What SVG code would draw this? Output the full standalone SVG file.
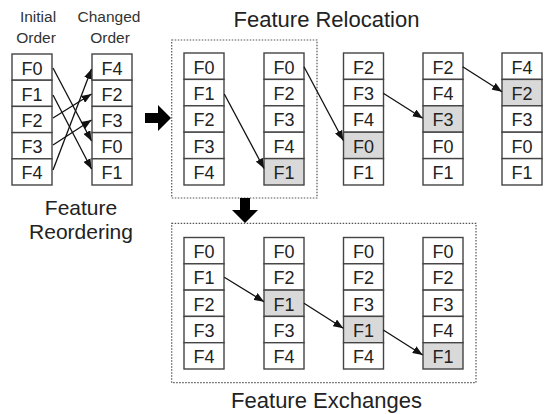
<svg xmlns="http://www.w3.org/2000/svg" width="546" height="414" viewBox="0 0 546 414">
<style>
text{font-family:"Liberation Sans",Arial,sans-serif;fill:#222;text-anchor:middle}
.c{fill:#fff;stroke:#444;stroke-width:1.4}
.s{fill:#d9d9d9;stroke:#444;stroke-width:1.4}
.t{font-size:18px}
.h{font-size:22px}
.r{font-size:21px}
.l{font-size:15.5px;fill:#333}
.box{fill:none;stroke:#555;stroke-width:1.2;stroke-dasharray:1.5 1.5}
.ln{stroke:#111;stroke-width:1.3;fill:none;marker-end:url(#ah)}
.big{fill:#000}
</style>
<defs>
<marker id="ah" viewBox="0 0 10 8" refX="10" refY="4" markerWidth="10" markerHeight="8" orient="auto" markerUnits="userSpaceOnUse"><path d="M0,0 L10,4 L0,8 z" fill="#111"/></marker>
</defs>

<g id="titles">
<text class="h" x="326.5" y="27">Feature Relocation</text>
<text class="h" x="326.5" y="408">Feature Exchanges</text>
<text class="r" x="81" y="215">Feature</text>
<text class="r" x="81" y="239">Reordering</text>
<text class="l" x="38" y="22">Initial</text>
<text class="l" x="36" y="43">Order</text>
<text class="l" x="109" y="22">Changed</text>
<text class="l" x="110" y="43">Order</text>
</g>

<g id="frames">
<rect class="box" x="171.7" y="40" width="145.3" height="158"/>
<rect class="box" x="171.7" y="223.3" width="304.3" height="159.4"/>
</g>

<g id="initial-order">
<rect class="c" x="12" y="54" width="40" height="26.2"/><text class="t" x="32" y="74.5">F0</text>
<rect class="c" x="12" y="80.2" width="40" height="26.2"/><text class="t" x="32" y="100.7">F1</text>
<rect class="c" x="12" y="106.4" width="40" height="26.2"/><text class="t" x="32" y="126.9">F2</text>
<rect class="c" x="12" y="132.6" width="40" height="26.2"/><text class="t" x="32" y="153.1">F3</text>
<rect class="c" x="12" y="158.8" width="40" height="26.2"/><text class="t" x="32" y="179.3">F4</text>
</g>
<g id="changed-order">
<rect class="c" x="92" y="54" width="40" height="26.2"/><text class="t" x="112" y="74.5">F4</text>
<rect class="c" x="92" y="80.2" width="40" height="26.2"/><text class="t" x="112" y="100.7">F2</text>
<rect class="c" x="92" y="106.4" width="40" height="26.2"/><text class="t" x="112" y="126.9">F3</text>
<rect class="c" x="92" y="132.6" width="40" height="26.2"/><text class="t" x="112" y="153.1">F0</text>
<rect class="c" x="92" y="158.8" width="40" height="26.2"/><text class="t" x="112" y="179.3">F1</text>
</g>

<g id="reloc-1">
<rect class="c" x="184" y="53" width="40" height="26.4"/><text class="t" x="204" y="73.5">F0</text>
<rect class="c" x="184" y="79.4" width="40" height="26.4"/><text class="t" x="204" y="99.9">F1</text>
<rect class="c" x="184" y="105.8" width="40" height="26.4"/><text class="t" x="204" y="126.3">F2</text>
<rect class="c" x="184" y="132.2" width="40" height="26.4"/><text class="t" x="204" y="152.7">F3</text>
<rect class="c" x="184" y="158.6" width="40" height="26.4"/><text class="t" x="204" y="179.1">F4</text>
</g>
<g id="reloc-2">
<rect class="c" x="264" y="53" width="40" height="26.4"/><text class="t" x="284" y="73.5">F0</text>
<rect class="c" x="264" y="79.4" width="40" height="26.4"/><text class="t" x="284" y="99.9">F2</text>
<rect class="c" x="264" y="105.8" width="40" height="26.4"/><text class="t" x="284" y="126.3">F3</text>
<rect class="c" x="264" y="132.2" width="40" height="26.4"/><text class="t" x="284" y="152.7">F4</text>
<rect class="s" x="264" y="158.6" width="40" height="26.4"/><text class="t" x="284" y="179.1">F1</text>
</g>
<g id="reloc-3">
<rect class="c" x="343.5" y="53" width="40" height="26.4"/><text class="t" x="363.5" y="73.5">F2</text>
<rect class="c" x="343.5" y="79.4" width="40" height="26.4"/><text class="t" x="363.5" y="99.9">F3</text>
<rect class="c" x="343.5" y="105.8" width="40" height="26.4"/><text class="t" x="363.5" y="126.3">F4</text>
<rect class="s" x="343.5" y="132.2" width="40" height="26.4"/><text class="t" x="363.5" y="152.7">F0</text>
<rect class="c" x="343.5" y="158.6" width="40" height="26.4"/><text class="t" x="363.5" y="179.1">F1</text>
</g>
<g id="reloc-4">
<rect class="c" x="423" y="53" width="40" height="26.4"/><text class="t" x="443" y="73.5">F2</text>
<rect class="c" x="423" y="79.4" width="40" height="26.4"/><text class="t" x="443" y="99.9">F4</text>
<rect class="s" x="423" y="105.8" width="40" height="26.4"/><text class="t" x="443" y="126.3">F3</text>
<rect class="c" x="423" y="132.2" width="40" height="26.4"/><text class="t" x="443" y="152.7">F0</text>
<rect class="c" x="423" y="158.6" width="40" height="26.4"/><text class="t" x="443" y="179.1">F1</text>
</g>
<g id="reloc-5">
<rect class="c" x="502" y="53" width="40" height="26.4"/><text class="t" x="522" y="73.5">F4</text>
<rect class="s" x="502" y="79.4" width="40" height="26.4"/><text class="t" x="522" y="99.9">F2</text>
<rect class="c" x="502" y="105.8" width="40" height="26.4"/><text class="t" x="522" y="126.3">F3</text>
<rect class="c" x="502" y="132.2" width="40" height="26.4"/><text class="t" x="522" y="152.7">F0</text>
<rect class="c" x="502" y="158.6" width="40" height="26.4"/><text class="t" x="522" y="179.1">F1</text>
</g>

<g id="exch-1">
<rect class="c" x="184" y="237.5" width="40" height="26.3"/><text class="t" x="204" y="258">F0</text>
<rect class="c" x="184" y="263.8" width="40" height="26.3"/><text class="t" x="204" y="284.3">F1</text>
<rect class="c" x="184" y="290.1" width="40" height="26.3"/><text class="t" x="204" y="310.6">F2</text>
<rect class="c" x="184" y="316.4" width="40" height="26.3"/><text class="t" x="204" y="336.9">F3</text>
<rect class="c" x="184" y="342.7" width="40" height="26.3"/><text class="t" x="204" y="363.2">F4</text>
</g>
<g id="exch-2">
<rect class="c" x="264" y="237.5" width="40" height="26.3"/><text class="t" x="284" y="258">F0</text>
<rect class="c" x="264" y="263.8" width="40" height="26.3"/><text class="t" x="284" y="284.3">F2</text>
<rect class="s" x="264" y="290.1" width="40" height="26.3"/><text class="t" x="284" y="310.6">F1</text>
<rect class="c" x="264" y="316.4" width="40" height="26.3"/><text class="t" x="284" y="336.9">F3</text>
<rect class="c" x="264" y="342.7" width="40" height="26.3"/><text class="t" x="284" y="363.2">F4</text>
</g>
<g id="exch-3">
<rect class="c" x="343.5" y="237.5" width="40" height="26.3"/><text class="t" x="363.5" y="258">F0</text>
<rect class="c" x="343.5" y="263.8" width="40" height="26.3"/><text class="t" x="363.5" y="284.3">F2</text>
<rect class="c" x="343.5" y="290.1" width="40" height="26.3"/><text class="t" x="363.5" y="310.6">F3</text>
<rect class="s" x="343.5" y="316.4" width="40" height="26.3"/><text class="t" x="363.5" y="336.9">F1</text>
<rect class="c" x="343.5" y="342.7" width="40" height="26.3"/><text class="t" x="363.5" y="363.2">F4</text>
</g>
<g id="exch-4">
<rect class="c" x="423" y="237.5" width="40" height="26.3"/><text class="t" x="443" y="258">F0</text>
<rect class="c" x="423" y="263.8" width="40" height="26.3"/><text class="t" x="443" y="284.3">F2</text>
<rect class="c" x="423" y="290.1" width="40" height="26.3"/><text class="t" x="443" y="310.6">F3</text>
<rect class="c" x="423" y="316.4" width="40" height="26.3"/><text class="t" x="443" y="336.9">F4</text>
<rect class="s" x="423" y="342.7" width="40" height="26.3"/><text class="t" x="443" y="363.2">F1</text>
</g>

<g id="connectors">
<line class="ln" x1="53" y1="68" x2="91.5" y2="141"/>
<line class="ln" x1="53" y1="95" x2="91.5" y2="169"/>
<line class="ln" x1="53" y1="118" x2="91.5" y2="94"/>
<line class="ln" x1="53" y1="145" x2="91.5" y2="120"/>
<line class="ln" x1="53" y1="170" x2="91.5" y2="69"/>
<line class="ln" x1="224.3" y1="94" x2="264" y2="168.5"/>
<line class="ln" x1="304" y1="66.7" x2="343.3" y2="140.5"/>
<line class="ln" x1="383.3" y1="93.3" x2="422.7" y2="118.3"/>
<line class="ln" x1="462.7" y1="66.7" x2="502" y2="91.7"/>
<line class="ln" x1="224.3" y1="277.3" x2="264" y2="301.7"/>
<line class="ln" x1="304" y1="303.3" x2="343.3" y2="328.3"/>
<line class="ln" x1="383.3" y1="330" x2="422.7" y2="355"/>
<polygon class="big" points="145,113 158,113 158,105 171,118 158,131 158,123 145,123"/>
<polygon class="big" points="240,198 250,198 250,210 258,210 245,223 232,210 240,210"/>
</g>
</svg>
